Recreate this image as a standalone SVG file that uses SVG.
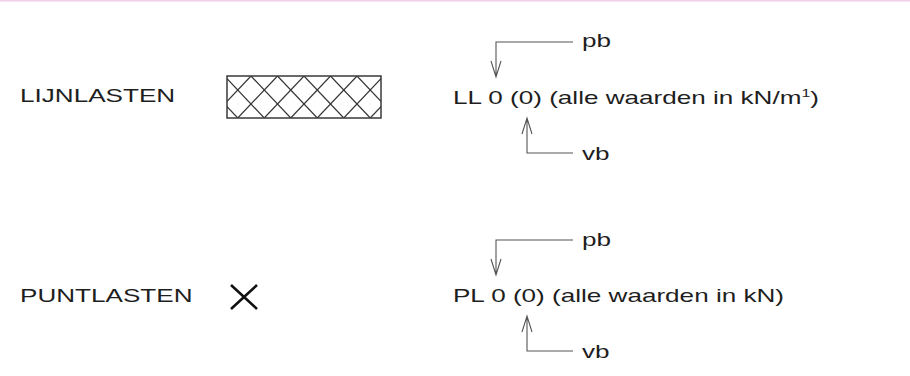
<svg xmlns="http://www.w3.org/2000/svg" width="910" height="376" viewBox="0 0 910 376">
<style>
.t{font-family:"Liberation Sans",Arial,sans-serif;font-size:18px;fill:#1e1e1e}
.lead{fill:none;stroke:#555;stroke-width:1.1}
.hatch{stroke:#333;stroke-width:1.2}
</style>
<defs>
<clipPath id="hc"><rect x="227" y="76" width="154" height="42"/></clipPath>
</defs>
<rect width="910" height="376" fill="#fff"/>
<line x1="0" y1="0.75" x2="910" y2="0.75" stroke="#f0cdea" stroke-width="1.5"/>

<g id="label-lijnlasten">
<text class="t" transform="scale(1.45 1)" x="13.8" y="102">LIJNLASTEN</text>
</g>
<g id="symbol-lijnlast">
<g clip-path="url(#hc)" class="hatch">
<line x1="198" y1="76" x2="237.75" y2="118"/>
<line x1="224.5" y1="76" x2="264.25" y2="118"/>
<line x1="251" y1="76" x2="290.75" y2="118"/>
<line x1="277.5" y1="76" x2="317.25" y2="118"/>
<line x1="304" y1="76" x2="343.75" y2="118"/>
<line x1="330.5" y1="76" x2="370.25" y2="118"/>
<line x1="357" y1="76" x2="396.75" y2="118"/>
<line x1="251" y1="76" x2="211.25" y2="118"/>
<line x1="277.5" y1="76" x2="237.75" y2="118"/>
<line x1="304" y1="76" x2="264.25" y2="118"/>
<line x1="330.5" y1="76" x2="290.75" y2="118"/>
<line x1="357" y1="76" x2="317.25" y2="118"/>
<line x1="383.5" y1="76" x2="343.75" y2="118"/>
<line x1="410" y1="76" x2="370.25" y2="118"/>
</g>
<rect x="227" y="76" width="154" height="42" fill="none" stroke="#3a3a3a" stroke-width="1.5"/>
</g>
<g id="text-ll">
<text class="t" transform="scale(1.45 1)" x="312.4" y="104">LL 0 (0) (alle waarden in kN/m<tspan font-size="11" dy="-7">1</tspan><tspan dy="7">)</tspan></text>
</g>
<g id="label-pb-ll"><text class="t" transform="scale(1.45 1)" x="401.4" y="47">pb</text></g>
<g id="label-vb-ll"><text class="t" transform="scale(1.45 1)" x="401.4" y="160">vb</text></g>

<g id="label-puntlasten">
<text class="t" transform="scale(1.45 1)" x="13.8" y="302">PUNTLASTEN</text>
</g>
<g id="symbol-puntlast">
<path d="M231 285 L257 309 M257 285 L231 309" stroke="#111" stroke-width="2.6" fill="none"/>
</g>
<g id="text-pl">
<text class="t" transform="scale(1.45 1)" x="312.4" y="302">PL 0 (0) (alle waarden in kN)</text>
</g>
<g id="label-pb-pl"><text class="t" transform="scale(1.45 1)" x="401.4" y="246">pb</text></g>
<g id="label-vb-pl"><text class="t" transform="scale(1.45 1)" x="401.4" y="358">vb</text></g>

<g id="connectors" class="lead">
<path d="M573 42 H496 V77 M491 61 L496 77 L501 61"/>
<path d="M573 153 H527 V118 M522 134 L527 118 L532 134"/>
<path d="M573 240 H496 V275 M491 259 L496 275 L501 259"/>
<path d="M573 351 H527 V316 M522 332 L527 316 L532 332"/>
</g>
</svg>
